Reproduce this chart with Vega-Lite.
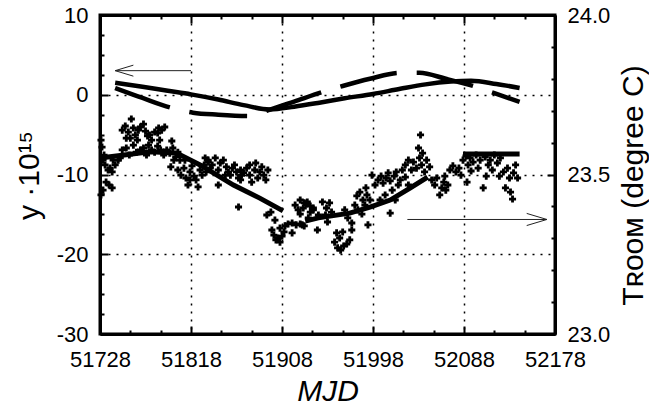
{
  "$schema": "https://vega.github.io/schema/vega-lite/v6.json",
  "width": 455,
  "height": 319,
  "autosize": "none",
  "padding": {"left": 100, "top": 15, "right": 94, "bottom": 81},
  "background": "white",
  "config": {
    "view": {"stroke": "black", "strokeWidth": 3},
    "axis": {
      "domainColor": "black", "domainWidth": 3,
      "tickColor": "black", "tickWidth": 2,
      "gridColor": "black", "gridDash": [2, 6], "gridWidth": 1.5,
      "labelFont": "Liberation Sans", "labelFontSize": 22, "labelColor": "black",
      "titleFont": "Liberation Sans", "titleFontSize": 30, "titleFontWeight": "normal", "titleColor": "black",
      "labelOverlap": false, "labelFlush": false, "labelBound": false
    }
  },
  "datasets": {
    "solid": [
      {"m": 51743, "v": 1.5}, {"m": 51770, "v": 1.0}, {"m": 51795, "v": 0.5}, {"m": 51818, "v": 0.05},
      {"m": 51845, "v": -0.6}, {"m": 51870, "v": -1.3}, {"m": 51896, "v": -1.85}, {"m": 51920, "v": -1.5},
      {"m": 51945, "v": -1.0}, {"m": 51970, "v": -0.45}, {"m": 51998, "v": 0.1}, {"m": 52025, "v": 0.75},
      {"m": 52050, "v": 1.3}, {"m": 52075, "v": 1.65}, {"m": 52095, "v": 1.75}, {"m": 52120, "v": 1.35},
      {"m": 52143, "v": 0.85}
    ],
    "dashed": [
      {"m": 51743, "v": 0.85}, {"m": 51770, "v": -0.4}, {"m": 51799, "v": -1.66}, {"m": 51820, "v": -2.25},
      {"m": 51845, "v": -2.5}, {"m": 51876, "v": -2.66}, {"m": 51894, "v": -1.95}, {"m": 51920, "v": -0.85},
      {"m": 51948, "v": 0.35}, {"m": 51968, "v": 1.1}, {"m": 51995, "v": 2.0}, {"m": 52025, "v": 2.75},
      {"m": 52044, "v": 2.75}, {"m": 52070, "v": 2.0}, {"m": 52097, "v": 1.1}, {"m": 52118, "v": 0.2},
      {"m": 52143, "v": -0.9}
    ],
    "arrowL": [
      {"g": "s", "o": 1, "m": 51743, "v": 3.02}, {"g": "s", "o": 2, "m": 51818, "v": 3.02},
      {"g": "h", "o": 1, "m": 51761, "v": 3.71}, {"g": "h", "o": 2, "m": 51743, "v": 3.02}, {"g": "h", "o": 3, "m": 51761, "v": 2.33}
    ],
    "arrowR": [
      {"g": "s", "o": 1, "m": 52032, "t": 23.359}, {"g": "s", "o": 2, "m": 52170, "t": 23.359},
      {"g": "h", "o": 1, "m": 52150, "t": 23.378}, {"g": "h", "o": 2, "m": 52170, "t": 23.359}, {"g": "h", "o": 3, "m": 52150, "t": 23.340}
    ],
    "trend": [
      {"seg": 1, "m": 51728, "t": 23.552}, {"seg": 1, "m": 51752, "t": 23.561}, {"seg": 1, "m": 51777, "t": 23.571},
      {"seg": 1, "m": 51804, "t": 23.567}, {"seg": 1, "m": 51827, "t": 23.530}, {"seg": 1, "m": 51860, "t": 23.467},
      {"seg": 1, "m": 51886, "t": 23.426}, {"seg": 1, "m": 51909, "t": 23.386},
      {"seg": 2, "m": 51931, "t": 23.354}, {"seg": 2, "m": 51944, "t": 23.364}, {"seg": 2, "m": 51975, "t": 23.379},
      {"seg": 2, "m": 51995, "t": 23.398}, {"seg": 2, "m": 52015, "t": 23.420}, {"seg": 2, "m": 52035, "t": 23.458},
      {"seg": 2, "m": 52052, "t": 23.492},
      {"seg": 3, "m": 52087, "t": 23.564}, {"seg": 3, "m": 52114, "t": 23.564}, {"seg": 3, "m": 52143, "t": 23.564}
    ],
    "pts": [
      {"m": 51729, "t": 23.608}, {"m": 51730, "t": 23.586}, {"m": 51732, "t": 23.561}, {"m": 51731, "t": 23.545},
      {"m": 51733, "t": 23.530}, {"m": 51736, "t": 23.514}, {"m": 51738, "t": 23.520}, {"m": 51740, "t": 23.508},
      {"m": 51734, "t": 23.476}, {"m": 51737, "t": 23.467}, {"m": 51740, "t": 23.458}, {"m": 51731, "t": 23.451},
      {"m": 51729, "t": 23.436}, {"m": 51743, "t": 23.530}, {"m": 51746, "t": 23.545}, {"m": 51748, "t": 23.552},
      {"m": 51741, "t": 23.545}, {"m": 51750, "t": 23.639}, {"m": 51753, "t": 23.652}, {"m": 51756, "t": 23.633},
      {"m": 51759, "t": 23.674}, {"m": 51761, "t": 23.646}, {"m": 51763, "t": 23.624}, {"m": 51766, "t": 23.639},
      {"m": 51768, "t": 23.649}, {"m": 51771, "t": 23.658}, {"m": 51773, "t": 23.636}, {"m": 51775, "t": 23.621},
      {"m": 51765, "t": 23.608}, {"m": 51758, "t": 23.614}, {"m": 51754, "t": 23.614}, {"m": 51777, "t": 23.624},
      {"m": 51779, "t": 23.608}, {"m": 51782, "t": 23.633}, {"m": 51785, "t": 23.630}, {"m": 51786, "t": 23.646},
      {"m": 51789, "t": 23.639}, {"m": 51792, "t": 23.649}, {"m": 51787, "t": 23.608}, {"m": 51799, "t": 23.605},
      {"m": 51750, "t": 23.577}, {"m": 51754, "t": 23.583}, {"m": 51757, "t": 23.561}, {"m": 51761, "t": 23.592},
      {"m": 51764, "t": 23.570}, {"m": 51768, "t": 23.577}, {"m": 51771, "t": 23.583}, {"m": 51774, "t": 23.561},
      {"m": 51776, "t": 23.592}, {"m": 51779, "t": 23.577}, {"m": 51782, "t": 23.570}, {"m": 51785, "t": 23.589},
      {"m": 51788, "t": 23.577}, {"m": 51791, "t": 23.561}, {"m": 51794, "t": 23.577}, {"m": 51797, "t": 23.567},
      {"m": 51800, "t": 23.583}, {"m": 51803, "t": 23.555}, {"m": 51805, "t": 23.570}, {"m": 51798, "t": 23.524},
      {"m": 51807, "t": 23.545}, {"m": 51801, "t": 23.545}, {"m": 51805, "t": 23.514}, {"m": 51808, "t": 23.498},
      {"m": 51811, "t": 23.520}, {"m": 51813, "t": 23.489}, {"m": 51815, "t": 23.467}, {"m": 51817, "t": 23.508},
      {"m": 51819, "t": 23.527}, {"m": 51821, "t": 23.495}, {"m": 51823, "t": 23.483}, {"m": 51825, "t": 23.461},
      {"m": 51827, "t": 23.514}, {"m": 51829, "t": 23.498}, {"m": 51831, "t": 23.530}, {"m": 51833, "t": 23.508},
      {"m": 51835, "t": 23.545}, {"m": 51837, "t": 23.520}, {"m": 51817, "t": 23.483}, {"m": 51812, "t": 23.545},
      {"m": 51832, "t": 23.552}, {"m": 51835, "t": 23.539}, {"m": 51839, "t": 23.530}, {"m": 51842, "t": 23.552},
      {"m": 51845, "t": 23.514}, {"m": 51847, "t": 23.536}, {"m": 51850, "t": 23.545}, {"m": 51853, "t": 23.524},
      {"m": 51855, "t": 23.508}, {"m": 51857, "t": 23.498}, {"m": 51859, "t": 23.520}, {"m": 51861, "t": 23.530},
      {"m": 51863, "t": 23.508}, {"m": 51865, "t": 23.489}, {"m": 51845, "t": 23.467}, {"m": 51852, "t": 23.498},
      {"m": 51867, "t": 23.514}, {"m": 51868, "t": 23.498}, {"m": 51867, "t": 23.483}, {"m": 51870, "t": 23.505},
      {"m": 51873, "t": 23.520}, {"m": 51876, "t": 23.498}, {"m": 51878, "t": 23.476}, {"m": 51881, "t": 23.514},
      {"m": 51884, "t": 23.489}, {"m": 51886, "t": 23.508}, {"m": 51888, "t": 23.524}, {"m": 51890, "t": 23.498},
      {"m": 51892, "t": 23.483}, {"m": 51894, "t": 23.514}, {"m": 51876, "t": 23.530}, {"m": 51882, "t": 23.536},
      {"m": 51865, "t": 23.398}, {"m": 51893, "t": 23.373}, {"m": 51898, "t": 23.326}, {"m": 51900, "t": 23.310},
      {"m": 51902, "t": 23.295}, {"m": 51904, "t": 23.301}, {"m": 51906, "t": 23.288}, {"m": 51908, "t": 23.307},
      {"m": 51910, "t": 23.320}, {"m": 51911, "t": 23.339}, {"m": 51914, "t": 23.345}, {"m": 51918, "t": 23.348},
      {"m": 51922, "t": 23.342}, {"m": 51926, "t": 23.345}, {"m": 51930, "t": 23.339}, {"m": 51918, "t": 23.317},
      {"m": 51921, "t": 23.404}, {"m": 51924, "t": 23.389}, {"m": 51926, "t": 23.376}, {"m": 51929, "t": 23.395},
      {"m": 51932, "t": 23.408}, {"m": 51936, "t": 23.382}, {"m": 51939, "t": 23.395}, {"m": 51934, "t": 23.364},
      {"m": 51928, "t": 23.342}, {"m": 51926, "t": 23.420}, {"m": 51930, "t": 23.411}, {"m": 51933, "t": 23.414},
      {"m": 51936, "t": 23.401}, {"m": 51939, "t": 23.389}, {"m": 51943, "t": 23.326}, {"m": 51948, "t": 23.414},
      {"m": 51955, "t": 23.411}, {"m": 51952, "t": 23.395}, {"m": 51944, "t": 23.373}, {"m": 51960, "t": 23.288},
      {"m": 51963, "t": 23.270}, {"m": 51966, "t": 23.263}, {"m": 51969, "t": 23.276}, {"m": 51972, "t": 23.282},
      {"m": 51975, "t": 23.295}, {"m": 51962, "t": 23.317}, {"m": 51968, "t": 23.320}, {"m": 51977, "t": 23.326},
      {"m": 51977, "t": 23.348}, {"m": 51965, "t": 23.301}, {"m": 51982, "t": 23.433}, {"m": 51985, "t": 23.445},
      {"m": 51988, "t": 23.420}, {"m": 51990, "t": 23.404}, {"m": 51992, "t": 23.436}, {"m": 51993, "t": 23.342},
      {"m": 51983, "t": 23.389}, {"m": 51987, "t": 23.376}, {"m": 51997, "t": 23.498}, {"m": 51991, "t": 23.458},
      {"m": 52000, "t": 23.467}, {"m": 52003, "t": 23.483}, {"m": 52006, "t": 23.495}, {"m": 52008, "t": 23.473},
      {"m": 52011, "t": 23.489}, {"m": 52013, "t": 23.505}, {"m": 52015, "t": 23.480}, {"m": 52017, "t": 23.451},
      {"m": 52019, "t": 23.495}, {"m": 52021, "t": 23.508}, {"m": 52023, "t": 23.467}, {"m": 52025, "t": 23.483},
      {"m": 52027, "t": 23.514}, {"m": 52030, "t": 23.492}, {"m": 52033, "t": 23.467}, {"m": 52015, "t": 23.379},
      {"m": 52010, "t": 23.436}, {"m": 52005, "t": 23.420}, {"m": 52020, "t": 23.420}, {"m": 52030, "t": 23.530},
      {"m": 52033, "t": 23.545}, {"m": 52036, "t": 23.514}, {"m": 52038, "t": 23.539}, {"m": 52041, "t": 23.520},
      {"m": 52044, "t": 23.552}, {"m": 52046, "t": 23.530}, {"m": 52049, "t": 23.508}, {"m": 52051, "t": 23.545},
      {"m": 52054, "t": 23.524}, {"m": 52045, "t": 23.624}, {"m": 52043, "t": 23.583}, {"m": 52047, "t": 23.567},
      {"m": 52056, "t": 23.483}, {"m": 52059, "t": 23.467}, {"m": 52061, "t": 23.489}, {"m": 52064, "t": 23.436},
      {"m": 52066, "t": 23.458}, {"m": 52068, "t": 23.476}, {"m": 52070, "t": 23.451}, {"m": 52072, "t": 23.467},
      {"m": 52074, "t": 23.514}, {"m": 52077, "t": 23.527}, {"m": 52080, "t": 23.508}, {"m": 52083, "t": 23.520},
      {"m": 52085, "t": 23.498}, {"m": 52069, "t": 23.495}, {"m": 52087, "t": 23.545}, {"m": 52090, "t": 23.558},
      {"m": 52092, "t": 23.530}, {"m": 52094, "t": 23.552}, {"m": 52097, "t": 23.539}, {"m": 52100, "t": 23.561},
      {"m": 52102, "t": 23.520}, {"m": 52104, "t": 23.545}, {"m": 52107, "t": 23.458}, {"m": 52109, "t": 23.555},
      {"m": 52112, "t": 23.530}, {"m": 52114, "t": 23.545}, {"m": 52116, "t": 23.514}, {"m": 52118, "t": 23.561},
      {"m": 52121, "t": 23.536}, {"m": 52124, "t": 23.552}, {"m": 52127, "t": 23.508}, {"m": 52129, "t": 23.458},
      {"m": 52131, "t": 23.520}, {"m": 52133, "t": 23.489}, {"m": 52134, "t": 23.445}, {"m": 52136, "t": 23.423},
      {"m": 52137, "t": 23.505}, {"m": 52139, "t": 23.530}, {"m": 52141, "t": 23.489}, {"m": 52091, "t": 23.476},
      {"m": 52095, "t": 23.511}, {"m": 52110, "t": 23.495}, {"m": 52123, "t": 23.495},
      {"m": 51951, "t": 23.373}, {"m": 51957, "t": 23.382}, {"m": 51970, "t": 23.389}, {"m": 51980, "t": 23.404},
      {"m": 51995, "t": 23.420}, {"m": 51953, "t": 23.351}, {"m": 51973, "t": 23.364}, {"m": 51897, "t": 23.382},
      {"m": 51901, "t": 23.357}, {"m": 51906, "t": 23.332}
    ]
  },
  "layer": [
    {
      "encoding": {
        "x": {
          "field": "m", "type": "quantitative",
          "scale": {"domain": [51728, 52178], "nice": false, "zero": false},
          "axis": {
            "orient": "bottom", "title": "MJD", "titleFontStyle": "italic", "titlePadding": 2,
            "values": [51728, 51758, 51788, 51818, 51848, 51878, 51908, 51938, 51968, 51998, 52028, 52058, 52088, 52118, 52148, 52178],
            "labelExpr": "(datum.value - 51728) % 90 == 0 ? '' + datum.value : ''",
            "labelPadding": 23,
            "tickSize": {"condition": {"test": "(datum.value - 51728) % 90 == 0", "value": -8}, "value": -4},
            "grid": true,
            "gridOpacity": {"condition": {"test": "datum.value > 51728 && datum.value < 52178 && (datum.value - 51728) % 90 == 0", "value": 1}, "value": 0}
          }
        },
        "y": {
          "field": "v", "type": "quantitative",
          "scale": {"domain": [-30, 10], "nice": false, "zero": false},
          "axis": {
            "orient": "left", "title": "y ·10¹⁵", "titleAngle": 270, "titleAlign": "center", "titleBaseline": "alphabetic",
            "titleX": -62, "titleY": 160,
            "values": [-30, -27.5, -25, -22.5, -20, -17.5, -15, -12.5, -10, -7.5, -5, -2.5, 0, 2.5, 5, 7.5, 10],
            "labelExpr": "datum.value % 10 == 0 ? '' + datum.value : ''",
            "labelPadding": 20,
            "tickSize": {"condition": {"test": "datum.value % 10 == 0", "value": -8}, "value": -4},
            "grid": true,
            "gridOpacity": {"condition": {"test": "datum.value == 0 || datum.value == -10 || datum.value == -20", "value": 1}, "value": 0}
          }
        }
      },
      "layer": [
        {"data": {"name": "solid"}, "mark": {"type": "line", "color": "black", "strokeWidth": 4.5, "interpolate": "monotone"}},
        {"data": {"name": "dashed"}, "mark": {"type": "line", "color": "black", "strokeWidth": 4.5, "interpolate": "monotone", "strokeDash": [58, 20]}},
        {"data": {"name": "arrowL"}, "mark": {"type": "line", "color": "#222", "strokeWidth": 1}, "encoding": {"detail": {"field": "g"}, "order": {"field": "o"}}}
      ]
    },
    {
      "encoding": {
        "x": {
          "field": "m", "type": "quantitative",
          "scale": {"domain": [51728, 52178], "nice": false, "zero": false},
          "axis": {
            "orient": "top", "title": null, "labels": false, "grid": false,
            "values": [51728, 51758, 51788, 51818, 51848, 51878, 51908, 51938, 51968, 51998, 52028, 52058, 52088, 52118, 52148, 52178],
            "tickSize": {"condition": {"test": "(datum.value - 51728) % 90 == 0", "value": -8}, "value": -4}
          }
        },
        "y": {
          "field": "t", "type": "quantitative",
          "scale": {"domain": [23, 24], "nice": false, "zero": false},
          "axis": {
            "orient": "right", "title": "Tʀᴏᴏᴍ (degree C)", "titleAngle": 270, "titleAlign": "center", "titleBaseline": "alphabetic",
            "titleX": 87, "titleY": 170,
            "values": [23, 23.1, 23.2, 23.3, 23.4, 23.5, 23.6, 23.7, 23.8, 23.9, 24],
            "labelExpr": "abs(datum.value * 2 - round(datum.value * 2)) < 0.001 ? format(datum.value, '.1f') : ''",
            "labelPadding": 20,
            "tickSize": {"condition": {"test": "abs(datum.value * 2 - round(datum.value * 2)) < 0.001", "value": -8}, "value": -4},
            "grid": false
          }
        }
      },
      "layer": [
        {"data": {"name": "pts"}, "mark": {"type": "point", "shape": "cross", "filled": true, "size": 50, "color": "black", "opacity": 1}},
        {"data": {"name": "trend"}, "mark": {"type": "line", "color": "black", "strokeWidth": 5}, "encoding": {"detail": {"field": "seg"}}},
        {"data": {"name": "arrowR"}, "mark": {"type": "line", "color": "#222", "strokeWidth": 1}, "encoding": {"detail": {"field": "g"}, "order": {"field": "o"}}}
      ]
    }
  ],
  "resolve": {"scale": {"x": "independent", "y": "independent"}, "axis": {"x": "independent", "y": "independent"}}
}
